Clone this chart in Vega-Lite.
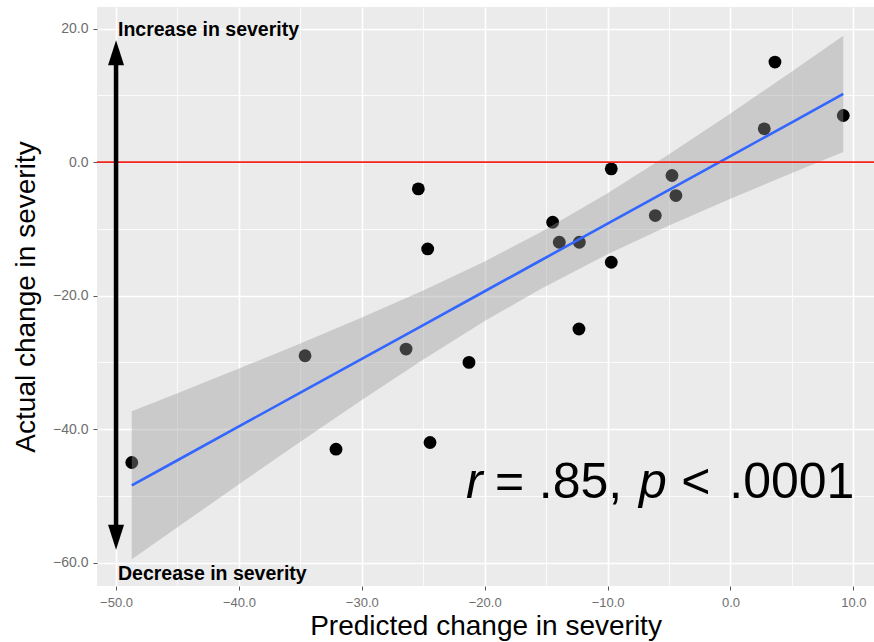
{
  "$schema": "https://vega.github.io/schema/vega-lite/v6.json",
  "width": 777,
  "height": 579,
  "autosize": "none",
  "padding": {"left": 97, "top": 7, "right": 0, "bottom": 56},
  "background": "white",
  "config": {
    "view": {"fill": "#EBEBEB", "stroke": null},
    "font": "Liberation Sans"
  },
  "datasets": {
    "pts": [
      {"pred": -48.72, "actual": -45},
      {"pred": -34.62, "actual": -29},
      {"pred": -32.10, "actual": -43},
      {"pred": -26.40, "actual": -28},
      {"pred": -25.40, "actual": -4},
      {"pred": -24.64, "actual": -13},
      {"pred": -24.45, "actual": -42},
      {"pred": -21.28, "actual": -30},
      {"pred": -14.47, "actual": -9},
      {"pred": -13.93, "actual": -12},
      {"pred": -12.30, "actual": -12},
      {"pred": -12.33, "actual": -25},
      {"pred": -9.70, "actual": -1},
      {"pred": -9.70, "actual": -15},
      {"pred": -6.12, "actual": -8},
      {"pred": -4.76, "actual": -2},
      {"pred": -4.44, "actual": -5},
      {"pred": 2.75, "actual": 5},
      {"pred": 3.62, "actual": 15},
      {"pred": 9.18, "actual": 7}
    ],
    "fit": [
      {"pred": -48.72, "fit": -48.42, "lo": -59.51, "hi": -37.33},
      {"pred": -45, "fit": -44.66, "lo": -54.70, "hi": -34.62},
      {"pred": -40, "fit": -39.59, "lo": -48.26, "hi": -30.92},
      {"pred": -35, "fit": -34.53, "lo": -41.89, "hi": -27.17},
      {"pred": -30, "fit": -29.46, "lo": -35.63, "hi": -23.29},
      {"pred": -25, "fit": -24.40, "lo": -29.56, "hi": -19.24},
      {"pred": -20, "fit": -19.34, "lo": -23.81, "hi": -14.87},
      {"pred": -15.49, "fit": -14.77, "lo": -19.02, "hi": -10.52},
      {"pred": -10, "fit": -9.21, "lo": -13.78, "hi": -4.64},
      {"pred": -5, "fit": -4.14, "lo": -9.48, "hi": 1.20},
      {"pred": 0, "fit": 0.92, "lo": -5.47, "hi": 7.31},
      {"pred": 5, "fit": 5.98, "lo": -1.63, "hi": 13.59},
      {"pred": 9.18, "fit": 10.22, "lo": 1.51, "hi": 18.93}
    ],
    "one": [{}]
  },
  "layer": [
    {
      "data": {"name": "pts"},
      "mark": {"type": "point", "filled": true, "color": "black", "opacity": 1, "size": 165},
      "encoding": {
        "x": {
          "field": "pred", "type": "quantitative",
          "scale": {"domain": [-51.55, 11.68], "nice": false, "zero": false},
          "axis": {
            "values": [-50, -45, -40, -35, -30, -25, -20, -15, -10, -5, 0, 5, 10],
            "labelExpr": "datum.value % 10 === 0 ? format(datum.value, '.1f') : ''",
            "labelOverlap": false, "labelFlush": false,
            "domain": false,
            "gridColor": "white",
            "gridWidth": {"condition": {"test": "datum.value % 10 === 0", "value": 1.6}, "value": 0.8},
            "tickOpacity": {"condition": {"test": "datum.value % 10 === 0", "value": 1}, "value": 0},
            "tickSize": 4, "tickColor": "#555555", "tickWidth": 1,
            "labelColor": "#6e6e6e", "labelFontSize": 13, "labelPadding": 6, "labelFont": "Liberation Sans",
            "title": "Predicted change in severity", "titleFontSize": 28, "titleFontWeight": "normal",
            "titleColor": "black", "titlePadding": 3, "titleFont": "Liberation Sans"
          }
        },
        "y": {
          "field": "actual", "type": "quantitative",
          "scale": {"domain": [-63.5, 23.25], "nice": false, "zero": false},
          "axis": {
            "values": [-60, -50, -40, -30, -20, -10, 0, 10, 20],
            "labelExpr": "datum.value % 20 === 0 ? format(datum.value, '.1f') : ''",
            "labelOverlap": false, "labelFlush": false,
            "domain": false,
            "gridColor": "white",
            "gridWidth": {"condition": {"test": "datum.value % 20 === 0", "value": 1.6}, "value": 0.8},
            "tickOpacity": {"condition": {"test": "datum.value % 20 === 0", "value": 1}, "value": 0},
            "tickSize": 4, "tickColor": "#555555", "tickWidth": 1,
            "labelColor": "#6e6e6e", "labelFontSize": 14, "labelPadding": 5, "labelFont": "Liberation Sans",
            "title": "Actual change in severity", "titleFontSize": 28, "titleFontWeight": "normal",
            "titleColor": "black", "titlePadding": 12, "titleFont": "Liberation Sans"
          }
        }
      }
    },
    {
      "data": {"name": "fit"},
      "mark": {"type": "area", "color": "#999999", "opacity": 0.4},
      "encoding": {
        "x": {"field": "pred", "type": "quantitative"},
        "y": {"field": "lo", "type": "quantitative", "title": "Actual change in severity"},
        "y2": {"field": "hi"}
      }
    },
    {
      "data": {"name": "fit"},
      "mark": {"type": "line", "color": "#3366FF", "strokeWidth": 2.6},
      "encoding": {
        "x": {"field": "pred", "type": "quantitative"},
        "y": {"field": "fit", "type": "quantitative", "title": "Actual change in severity"}
      }
    },
    {
      "data": {"name": "one"},
      "mark": {"type": "rule", "color": "#F2231A", "strokeWidth": 1.8},
      "encoding": {"y": {"datum": 0, "type": "quantitative"}}
    },
    {
      "data": {"name": "one"},
      "mark": {"type": "rule", "color": "black", "strokeWidth": 4.5},
      "encoding": {
        "x": {"datum": -50, "type": "quantitative"},
        "y": {"datum": 16.22, "type": "quantitative"},
        "y2": {"datum": -56.18}
      }
    },
    {
      "data": {"name": "one"},
      "mark": {"type": "point", "filled": true, "color": "black", "opacity": 1, "size": 625, "shape": "M0,-1L0.64,1L-0.64,1Z"},
      "encoding": {
        "x": {"datum": -50, "type": "quantitative"},
        "y": {"datum": 16.4, "type": "quantitative"}
      }
    },
    {
      "data": {"name": "one"},
      "mark": {"type": "point", "filled": true, "color": "black", "opacity": 1, "size": 625, "shape": "M0,1L0.64,-1L-0.64,-1Z"},
      "encoding": {
        "x": {"datum": -50, "type": "quantitative"},
        "y": {"datum": -56.18, "type": "quantitative"}
      }
    },
    {
      "data": {"name": "one"},
      "mark": {"type": "text", "text": "Increase in severity", "align": "left", "baseline": "alphabetic", "fontSize": 19.5, "fontWeight": "bold", "color": "black", "font": "Liberation Sans"},
      "encoding": {
        "x": {"datum": -49.84, "type": "quantitative"},
        "y": {"datum": 18.95, "type": "quantitative"}
      }
    },
    {
      "data": {"name": "one"},
      "mark": {"type": "text", "text": "Decrease in severity", "align": "left", "baseline": "alphabetic", "fontSize": 19.5, "fontWeight": "bold", "color": "black", "font": "Liberation Sans"},
      "encoding": {
        "x": {"datum": -49.84, "type": "quantitative"},
        "y": {"datum": -62.55, "type": "quantitative"}
      }
    },
    {
      "data": {"name": "one"},
      "mark": {"type": "text", "text": "r", "align": "left", "baseline": "alphabetic", "fontSize": 50, "fontStyle": "italic", "color": "black", "font": "Liberation Sans"},
      "encoding": {
        "x": {"datum": -21.52, "type": "quantitative"},
        "y": {"datum": -50.26, "type": "quantitative"}
      }
    },
    {
      "data": {"name": "one"},
      "mark": {"type": "text", "text": "=", "align": "left", "baseline": "alphabetic", "fontSize": 50, "color": "black", "font": "Liberation Sans"},
      "encoding": {
        "x": {"datum": -19.16, "type": "quantitative"},
        "y": {"datum": -50.26, "type": "quantitative"}
      }
    },
    {
      "data": {"name": "one"},
      "mark": {"type": "text", "text": ".85,", "align": "left", "baseline": "alphabetic", "fontSize": 50, "color": "black", "font": "Liberation Sans"},
      "encoding": {
        "x": {"datum": -15.6, "type": "quantitative"},
        "y": {"datum": -50.26, "type": "quantitative"}
      }
    },
    {
      "data": {"name": "one"},
      "mark": {"type": "text", "text": "p", "align": "left", "baseline": "alphabetic", "fontSize": 50, "fontStyle": "italic", "color": "black", "font": "Liberation Sans"},
      "encoding": {
        "x": {"datum": -7.45, "type": "quantitative"},
        "y": {"datum": -50.26, "type": "quantitative"}
      }
    },
    {
      "data": {"name": "one"},
      "mark": {"type": "text", "text": "<", "align": "left", "baseline": "alphabetic", "fontSize": 50, "color": "black", "font": "Liberation Sans"},
      "encoding": {
        "x": {"datum": -4.0, "type": "quantitative"},
        "y": {"datum": -50.26, "type": "quantitative"}
      }
    },
    {
      "data": {"name": "one"},
      "mark": {"type": "text", "text": ".0001", "align": "left", "baseline": "alphabetic", "fontSize": 50, "color": "black", "font": "Liberation Sans"},
      "encoding": {
        "x": {"datum": -0.1, "type": "quantitative"},
        "y": {"datum": -50.26, "type": "quantitative"}
      }
    }
  ]
}
